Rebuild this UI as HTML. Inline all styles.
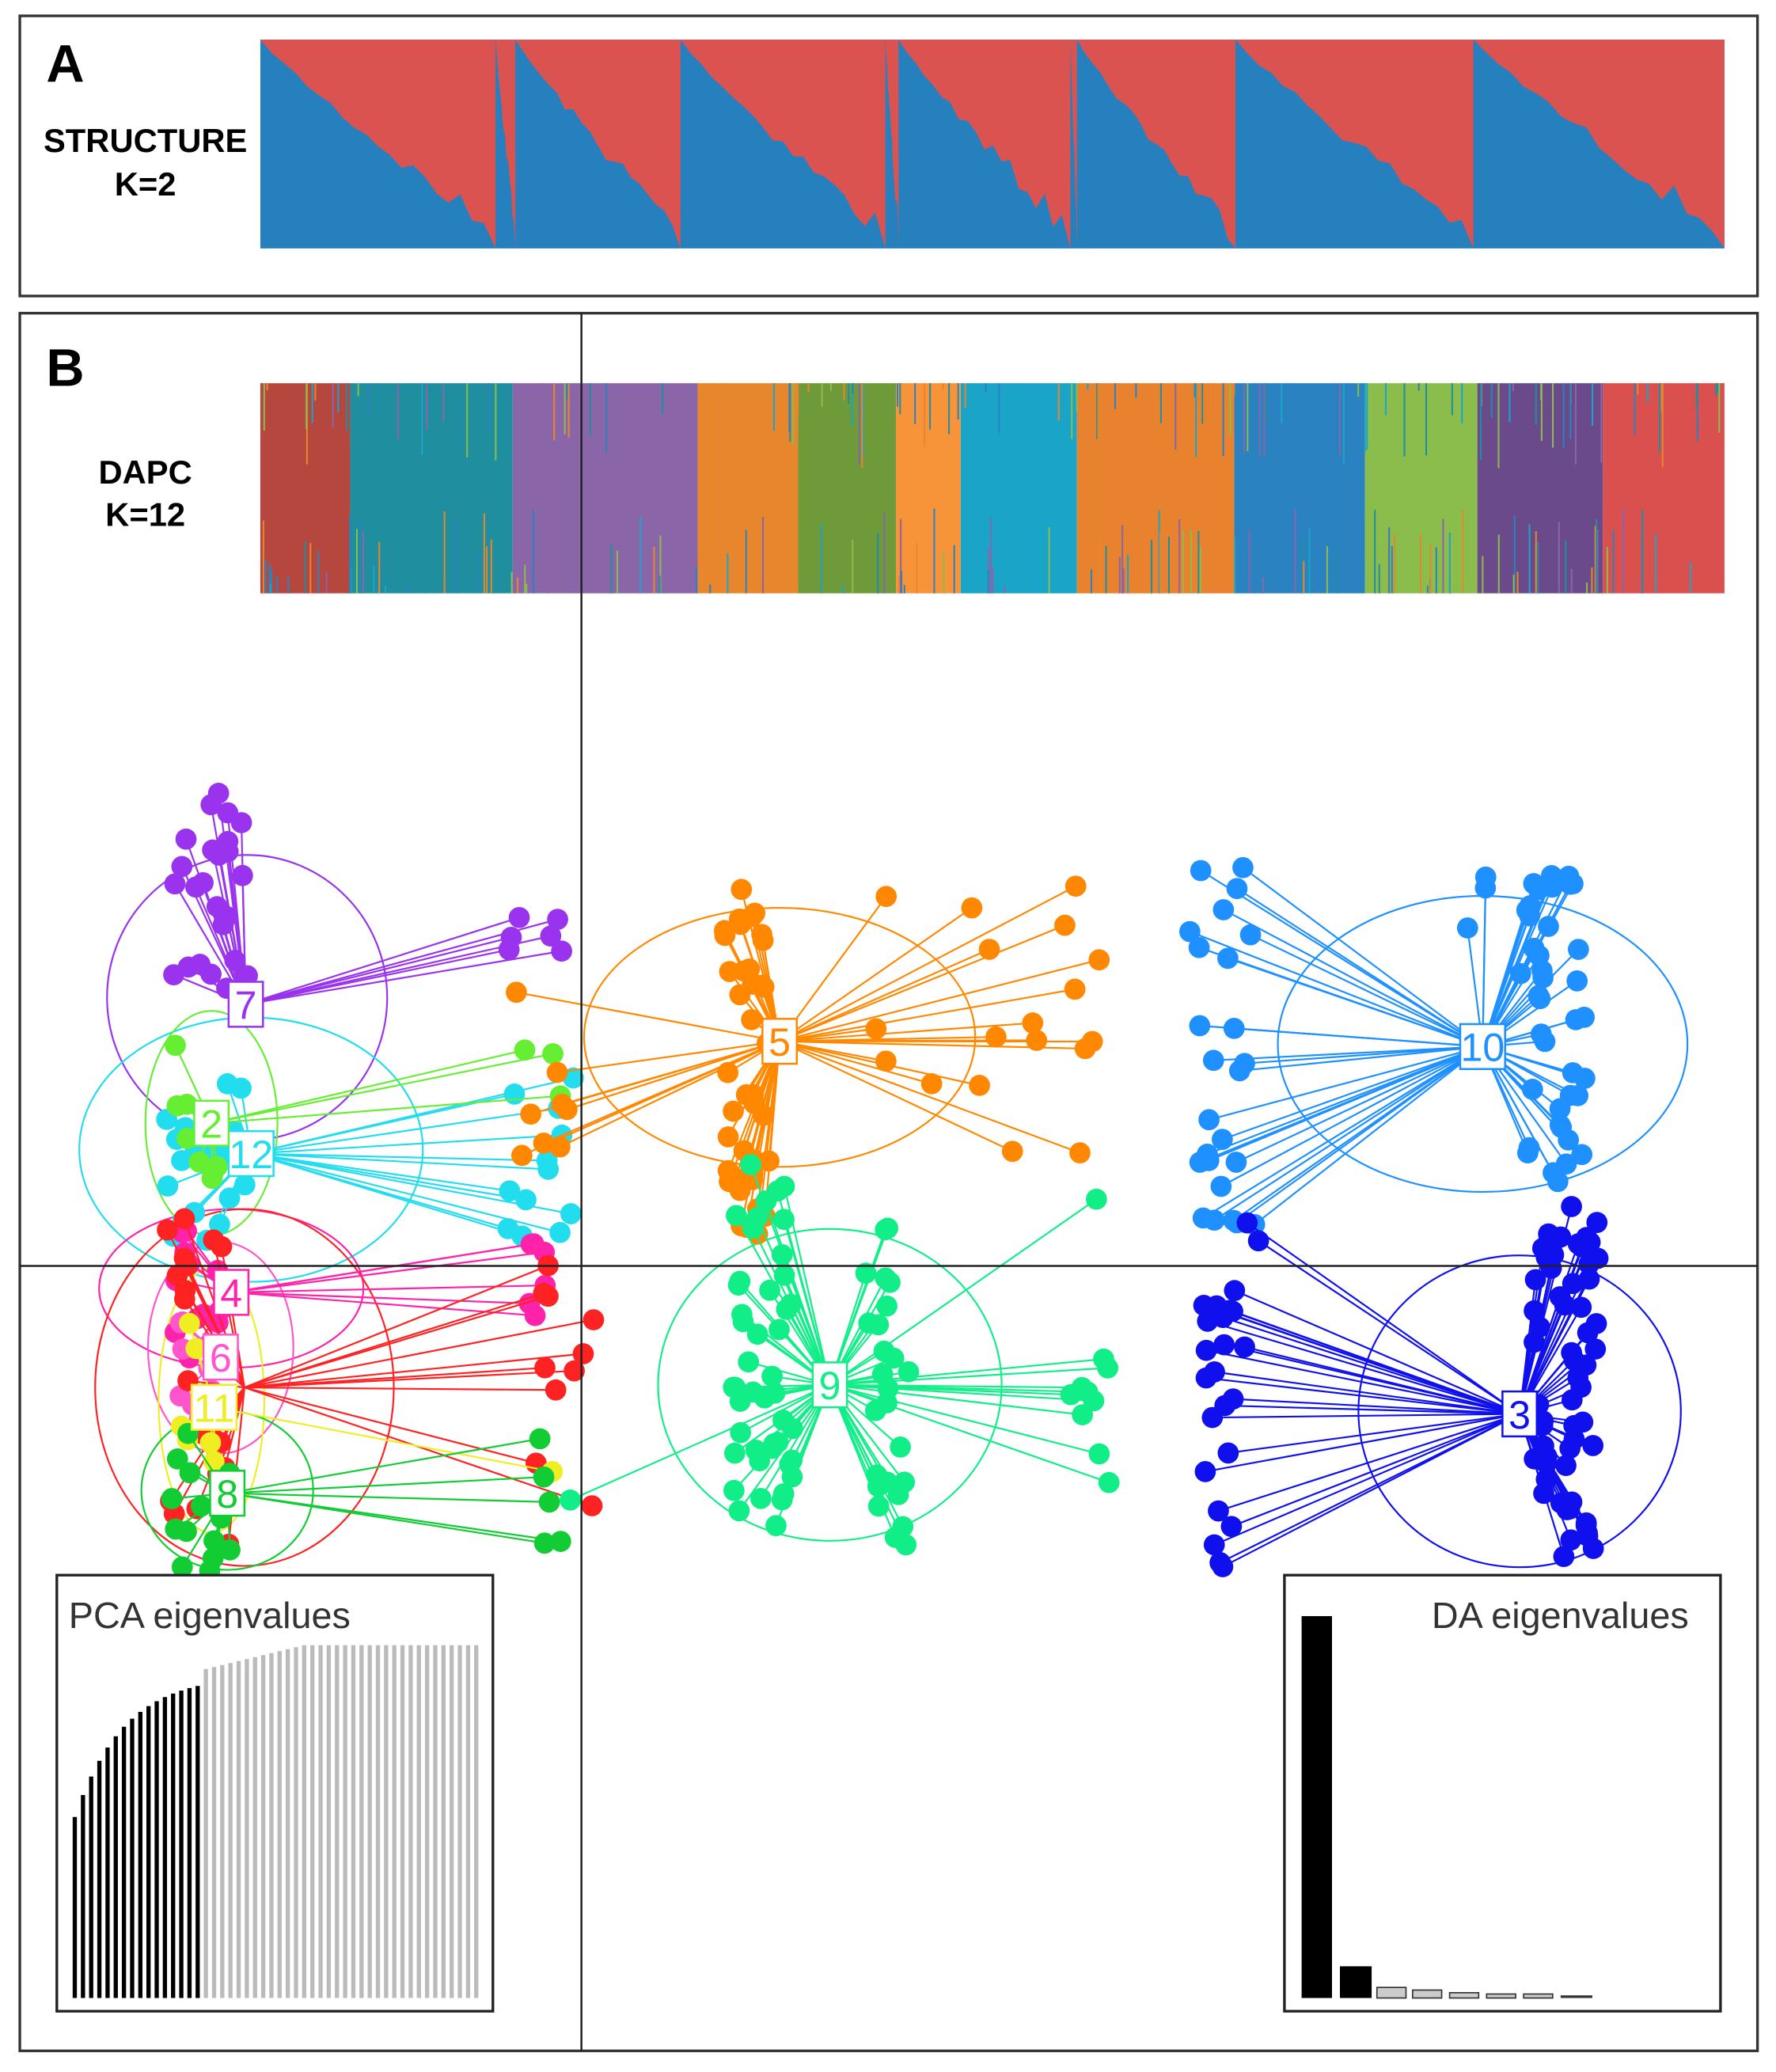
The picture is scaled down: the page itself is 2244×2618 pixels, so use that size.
<!DOCTYPE html>
<html><head><meta charset="utf-8"><style>html,body{margin:0;padding:0;background:#fff}svg{display:block}</style></head>
<body>
<svg id="s" width="2244" height="2618" viewBox="0 0 1344 1568" preserveAspectRatio="none" xmlns="http://www.w3.org/2000/svg" font-family="Liberation Sans, Arial, sans-serif">
<rect x="0" y="0" width="1344" height="1568" fill="#fff"/>
<rect x="15" y="12" width="1315" height="212" fill="none" stroke="#333" stroke-width="2"/>
<text x="35" y="62" font-size="40" font-weight="bold">A</text>
<text x="110" y="115" font-size="25" font-weight="bold" text-anchor="middle">STRUCTURE</text>
<text x="110" y="148" font-size="25" font-weight="bold" text-anchor="middle">K=2</text>
<g id="structA"></g>
<rect x="15" y="237" width="1315" height="1315" fill="none" stroke="#333" stroke-width="2"/>
<text x="35" y="292" font-size="40" font-weight="bold">B</text>
<text x="110" y="366" font-size="25" font-weight="bold" text-anchor="middle">DAPC</text>
<text x="110" y="398" font-size="25" font-weight="bold" text-anchor="middle">K=12</text>
<g id="dapc"></g>
<g id="scatter"></g>
<line x1="440" y1="237" x2="440" y2="1552" stroke="#222" stroke-width="1.5"/>
<line x1="15" y1="958" x2="1330" y2="958" stroke="#222" stroke-width="1.5"/>
<g id="labels"></g>
<rect x="43" y="1192" width="330" height="330" fill="#fff" stroke="#222" stroke-width="2"/>
<text x="52" y="1232" font-size="28" fill="#333">PCA eigenvalues</text>
<g id="pca"></g>
<rect x="972" y="1192" width="330" height="330" fill="#fff" stroke="#222" stroke-width="2"/>
<text x="1278" y="1232" font-size="28" fill="#333" text-anchor="end">DA eigenvalues</text>
<rect x="985" y="1223" width="23" height="289" fill="#000"/>
<rect x="1014" y="1488" width="24" height="24" fill="#000"/>
<rect x="1042" y="1504" width="22" height="8" fill="#ccc" stroke="#333"/>
<rect x="1069" y="1506" width="22" height="6" fill="#ccc" stroke="#333"/>
<rect x="1097" y="1508" width="22" height="4" fill="#ccc" stroke="#333"/>
<rect x="1125" y="1509" width="22" height="3" fill="#ccc" stroke="#333"/>
<rect x="1153" y="1509" width="22" height="3" fill="#ccc" stroke="#333"/>
<rect x="1181" y="1510" width="24" height="2" fill="#333"/>
</svg>
<script>
var NS="http://www.w3.org/2000/svg";
function el(p,t,a){var e=document.createElementNS(NS,t);for(var k in a)e.setAttribute(k,a[k]);document.getElementById(p).appendChild(e);return e;}
var seed=7;function r(){seed=(seed*16807)%2147483647;return (seed-1)/2147483646;}
el("structA","rect",{x:197,y:30,width:1108,height:158,fill:"#2680be"});
var segs=[[197,375],[375,390],[390,515],[515,670],[670,680],[680,810],[810,815],[815,935],[935,1115],[1115,1305]];
segs.forEach(function(s){var w=s[1]-s[0];var d="M"+s[0]+",30 ";for(var i=0;i<=20;i++){var x=s[0]+w*i/20;var f=Math.pow(i/20,0.9);var y=30+158*f*(0.85+0.15*r());if(i==20)y=188;d+="L"+x.toFixed(1)+","+Math.min(188,y).toFixed(1)+" ";}d+="L"+s[1]+",30Z";el("structA","path",{d:d,fill:"#da5350"});});
var dc=[[197,265,"#b5473f"],[265,388,"#1f8fa0"],[388,528,"#8a65a8"],[528,604,"#e8862e"],[604,678,"#6f9a3a"],[678,727,"#f7943a"],[727,815,"#1aa5c8"],[815,934,"#e8822e"],[934,1033,"#2b82c0"],[1033,1118,"#8bbd4c"],[1118,1213,"#6a4a8a"],[1213,1305,"#d9504f"]];
dc.forEach(function(c){el("dapc","rect",{x:c[0],y:290,width:c[1]-c[0],height:159,fill:c[2]});});
var mix=["#e8862e","#1f8fa0","#8bbd4c","#2b82c0","#8a65a8","#1aa5c8"];
for(var i=0;i<260;i++){var x=197+1108*r();var h=5+60*r();var tp=r()<0.5;el("dapc","rect",{x:x,y:tp?290:449-h,width:1.2,height:h,fill:mix[Math.floor(r()*6)]});}
var C=[
{n:"7",cx:186,cy:760,col:"#9933ee",e:[187,755,106,108],pts:[[130,190,600,760,25],[385,425,680,720,6]]},
{n:"12",cx:190,cy:873,col:"#22ddee",e:[190,870,130,100],pts:[[125,190,820,950,20],[380,435,800,940,12]]},
{n:"2",cx:160,cy:850,col:"#66ee33",e:[160,850,50,85],pts:[[130,165,790,900,8],[390,425,790,830,3]]},
{n:"4",cx:175,cy:978,col:"#ff22aa",e:[175,975,100,60],pts:[[130,180,930,1030,15],[400,420,930,1030,6]]},
{n:"6",cx:167,cy:1027,col:"#ff55cc",e:[167,1020,55,80],pts:[[130,170,980,1080,8]]},
{n:"",cx:185,cy:1050,col:"#ff2222",e:[185,1050,113,135],pts:[[125,175,900,1180,20],[405,450,915,1165,10]]},
{n:"11",cx:162,cy:1065,col:"#eeee22",e:[160,1060,40,100],pts:[[135,165,1000,1130,6],[415,425,1110,1115,1]]},
{n:"8",cx:172,cy:1130,col:"#11cc33",e:[172,1128,65,60],pts:[[130,175,1080,1190,15],[400,430,1085,1185,5]]},
{n:"5",cx:590,cy:788,col:"#ff8800",e:[590,785,148,98],pts:[[545,585,640,940,40],[385,430,740,880,8],[650,840,670,900,18]]},
{n:"9",cx:628,cy:1048,col:"#11ee88",e:[628,1048,130,118],pts:[[555,600,880,1160,45],[655,690,920,1180,25],[810,840,900,1150,10],[430,432,1135,1137,1]]},
{n:"10",cx:1122,cy:792,col:"#1e90ff",e:[1122,790,155,112],pts:[[900,950,650,950,25],[1150,1200,650,900,40],[1110,1140,650,740,3]]},
{n:"3",cx:1150,cy:1070,col:"#1010ee",e:[1150,1068,122,118],pts:[[910,935,970,1195,22],[1160,1210,900,1180,60],[940,980,925,1050,3]]}];
C.forEach(function(c){el("scatter","ellipse",{cx:c.e[0],cy:c.e[1],rx:c.e[2],ry:c.e[3],fill:"none",stroke:c.col,"stroke-width":1.3});});
C.forEach(function(c){c.pts.forEach(function(p){for(var i=0;i<p[4];i++){var x=p[0]+(p[1]-p[0])*r(),y=p[2]+(p[3]-p[2])*r();el("scatter","line",{x1:c.cx,y1:c.cy,x2:x,y2:y,stroke:c.col,"stroke-width":1.3});el("scatter","circle",{cx:x,cy:y,r:8,fill:c.col});}});});
C.forEach(function(c){if(!c.n)return;var w=c.n.length>1?34:26;el("labels","rect",{x:c.cx-w/2,y:c.cy-17,width:w,height:34,fill:"#fff",stroke:c.col,"stroke-width":1.5});var t=el("labels","text",{x:c.cx,y:c.cy+11,"font-size":30,"text-anchor":"middle",fill:c.col});t.textContent=c.n;});
for(var i=0;i<50;i++){var x=55+i*6.2;var ty=1512-(i<16?(137+108*(1-Math.exp(-i/6))):(267-(i<28?(28-i)*1.5:0)));el("pca","rect",{x:x,y:ty,width:3.2,height:1512-ty,fill:i<16?"#000":"#bbb"});}
</script>
</body></html>
